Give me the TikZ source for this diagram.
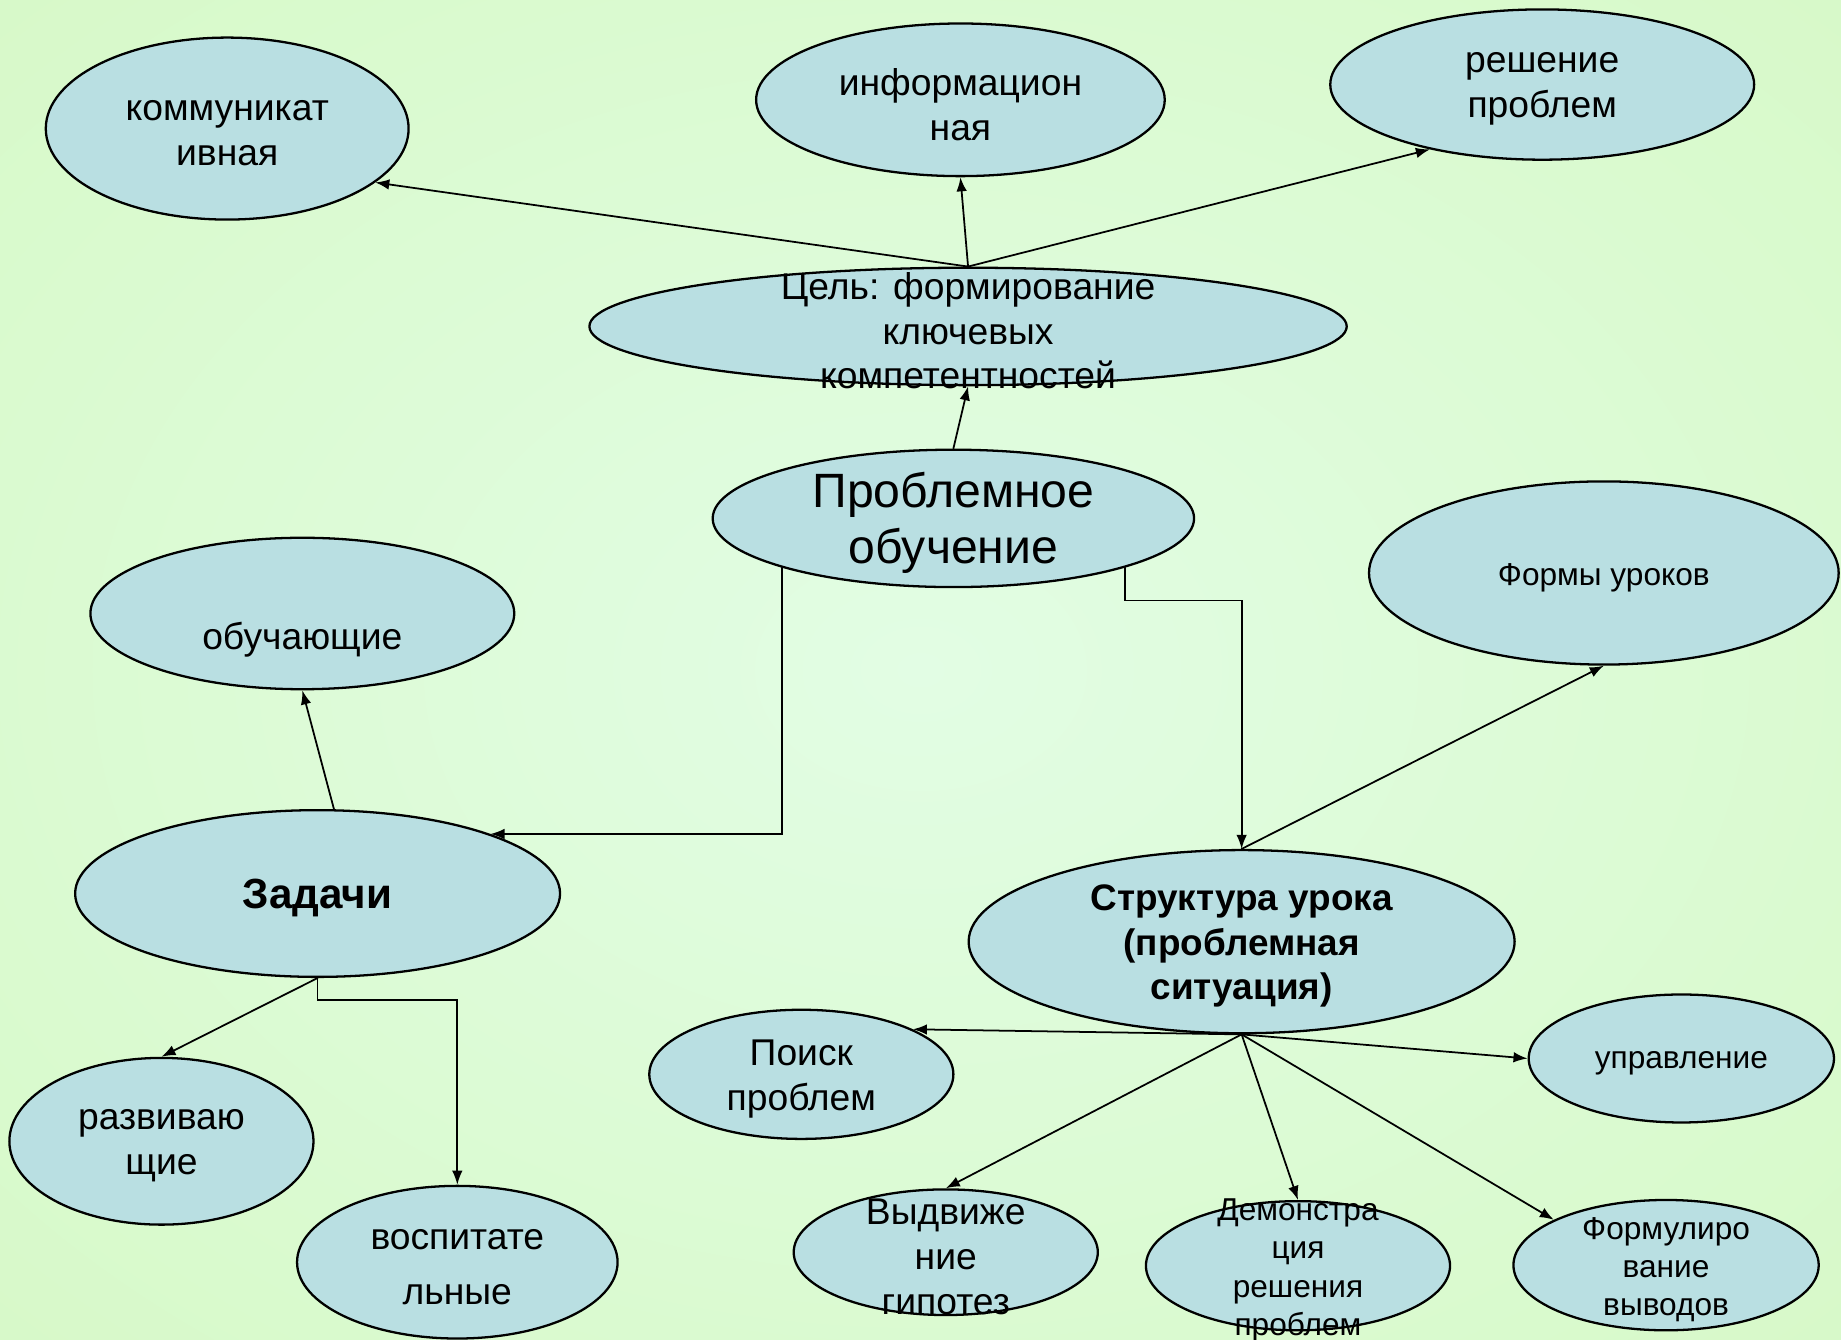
\documentclass[tikz,border=0pt]{standalone}
\usepackage{fontspec}
\setmainfont{Liberation Sans}
\usetikzlibrary{shapes.geometric,arrows.meta}

\newdimen\px
\px=0.11741mm

\definecolor{bgin}{RGB}{226,253,228}
\definecolor{bgout}{RGB}{204,245,172}
\pgfdeclareradialshading{bgglow}{\pgfpoint{0bp}{0bp}}{color(0bp)=(bgin); color(72bp)=(bgout)}

\begin{document}
\begin{tikzpicture}
			[x=\px,y=-\px,line cap=round,
			%Styles
			oval/.style 2 args={ellipse,draw,line width=.65pt,fill=ovalfill,inner sep=0pt,
				minimum width=#1*\px,minimum height=#2*\px},
			every label/.style={align=center,inner sep=0pt,yshift=-1.3pt},
			txt/.style={font=\fontsize{10.6}{12.7}\selectfont},
			small txt/.style={font=\fontsize{9}{10.9}\selectfont},
			big txt/.style={font=\fontsize{13.7}{16}\selectfont},
			head txt/.style={font=\fontsize{10.5}{12.7}\selectfont\bfseries},
			title txt/.style={font=\fontsize{12}{14}\selectfont\bfseries},
			link/.style={line width=.5pt,-{Latex[length=4pt,width=3pt]}}
			]
			
			%Colors
			\definecolor{ovalfill}{RGB}{185,223,226}	%ellipses
			
			%Background
			\useasboundingbox (0,0) rectangle (1568,1141);
			\shade[shading=bgglow] (0,0) rectangle (1568,1141);
			
			%The graphic
			\node[oval={309}{155},label={[txt]center:{коммуникат\\ивная}}] (komm) at (193.5,109.5) {};
			\node[oval={348}{130},label={[txt]center:{информацион\\ная}}] (info) at (818,85) {};
			\node[oval={361}{128},label={[txt]center:{решение\\проблем}}] (resh) at (1313.5,72) {};
			\node[oval={645}{100},label={[txt]center:{Цель: формирование\\ключевых\\компетентностей}}] (goal) at (824.5,278) {};
			\node[oval={410}{117},label={[big txt]center:{Проблемное\\обучение}}] (prob) at (812,441.5) {};
			\node[oval={400}{156},label={[small txt]center:{Формы уроков}}] (forms) at (1366,488) {};
			\node[oval={361}{129},label={[txt,yshift=-6.3pt]center:{обучающие}}] (obuch) at (257.5,522.5) {};
			\node[oval={413}{142},label={[title txt]center:{Задачи}}] (zad) at (270.5,761) {};
			\node[oval={465}{156},label={[head txt]center:{Структура урока\\(проблемная\\ситуация)}}] (struct) at (1057.5,802) {};
			\node[oval={259}{110},label={[txt]center:{Поиск\\проблем}}] (poisk) at (682.5,915) {};
			\node[oval={260}{109},label={[small txt]center:{управление}}] (upr) at (1432,901.5) {};
			\node[oval={259}{142},label={[txt]center:{развиваю\\щие}}] (razv) at (137.5,972) {};
			\node[oval={273}{130},label={[txt]center:{воспитате\\[3pt]льные}}] (vosp) at (389.5,1075) {};
			\node[oval={259}{107},label={[txt]center:{Выдвиже\\ние\\гипотез}}] (vyd) at (805.5,1066.5) {};
			\node[oval={259}{110},label={[small txt]center:{Демонстра\\ция\\решения\\проблем}}] (demo) at (1105.5,1078) {};
			\node[oval={260}{111},label={[small txt]center:{Формулиро\\вание\\выводов}}] (formul) at (1419,1077.5) {};
			
			\draw[link] (goal.north) -- (komm.-20);
			\draw[link] (goal.north) -- (info.south);
			\draw[link] (goal.north) -- (resh.210);
			\draw[link] (prob.north) -- (goal.south);
			\draw[link] (prob.196) |- (zad.19);
			\draw[link] (prob.-16) -- ++(0,28) -| (struct.north);
			\draw[link] (struct.north) -- (forms.south);
			\draw[link] (zad.79) -- (obuch.south);
			\draw[link] (zad.south) -- (razv.north);
			\draw[link] (zad.south) -- ++(0,19) -| (vosp.north);
			\draw[link] (struct.south) -- (poisk.22);
			\draw[link] (struct.south) -- (upr.west);
			\draw[link] (struct.south) -- (vyd.north);
			\draw[link] (struct.south) -- (demo.north);
			\draw[link] (struct.south) -- (formul.158);
		\end{tikzpicture}
\end{document}
